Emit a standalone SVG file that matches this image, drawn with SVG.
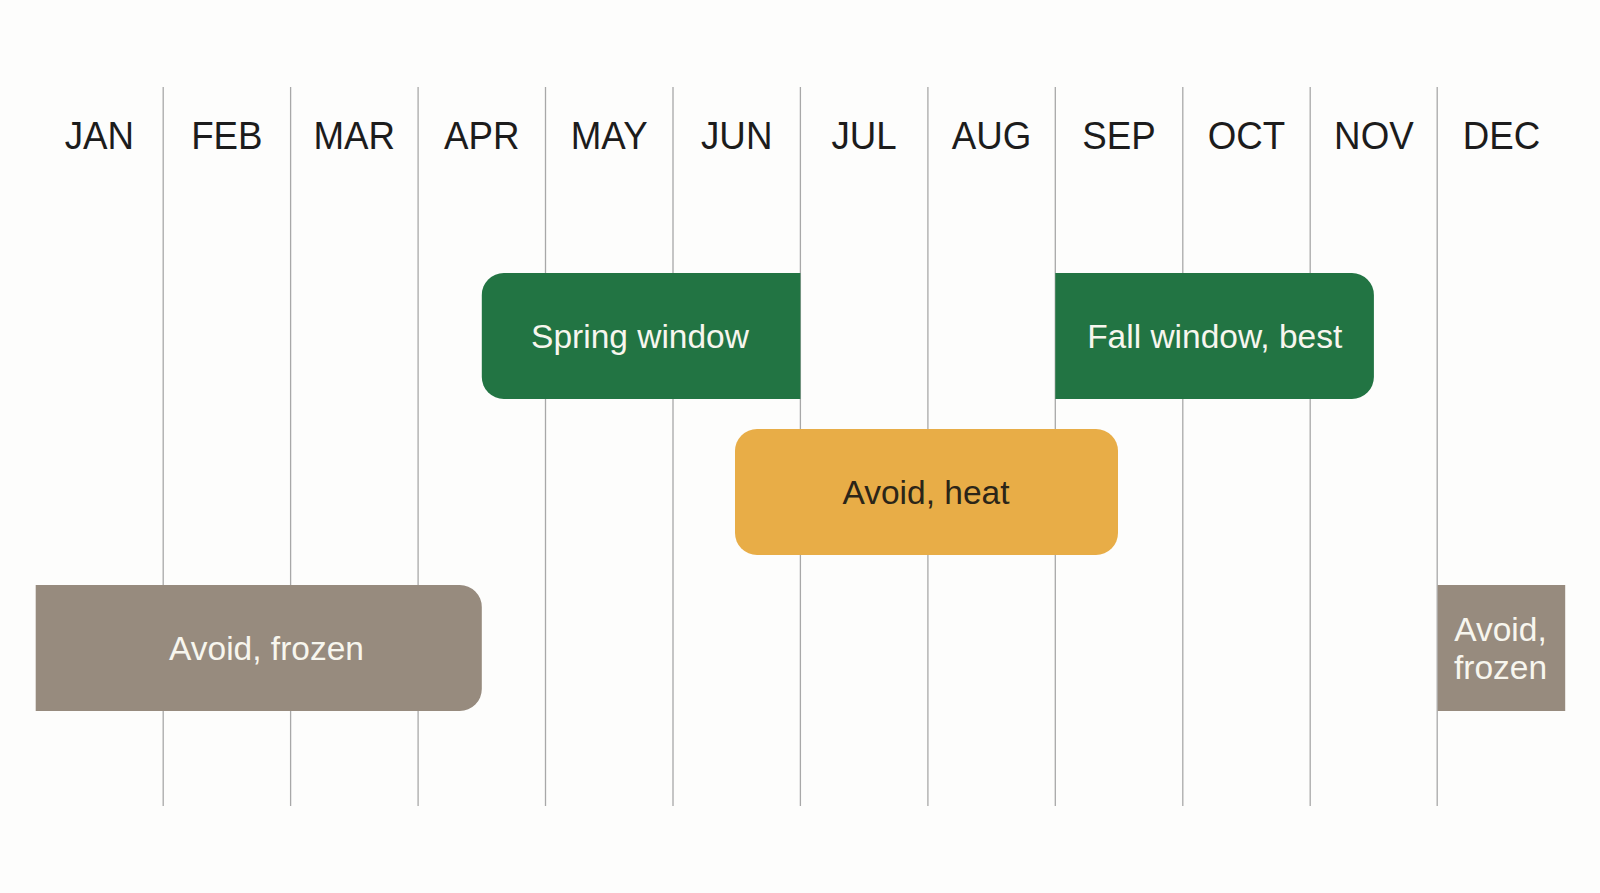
<svg xmlns="http://www.w3.org/2000/svg" width="1600" height="893" viewBox="0 0 1600 893">
<style>
.bg{fill:#fdfdfc}
.grid line{stroke:#a8a8a8;stroke-width:1.3}
.mon{font-family:"Liberation Sans",Arial,sans-serif;font-size:39.5px;fill:#1c1c1c;text-anchor:middle}
.lbl{font-family:"Liberation Sans",Arial,sans-serif;font-size:33.5px;text-anchor:middle}
.g{fill:#227443}
.a{fill:#e8ad47}
.t{fill:#978b7e}
.wt{fill:#f7f6ee}
.dk{fill:#2b2518}
</style>
<rect class="bg" x="0" y="0" width="1600" height="893"/>
<g id="grid" class="grid">
<line x1="163.2" y1="87" x2="163.2" y2="806"/>
<line x1="290.6" y1="87" x2="290.6" y2="806"/>
<line x1="418.1" y1="87" x2="418.1" y2="806"/>
<line x1="545.5" y1="87" x2="545.5" y2="806"/>
<line x1="673" y1="87" x2="673" y2="806"/>
<line x1="800.4" y1="87" x2="800.4" y2="806"/>
<line x1="927.9" y1="87" x2="927.9" y2="806"/>
<line x1="1055.3" y1="87" x2="1055.3" y2="806"/>
<line x1="1182.8" y1="87" x2="1182.8" y2="806"/>
<line x1="1310.2" y1="87" x2="1310.2" y2="806"/>
<line x1="1437.2" y1="87" x2="1437.2" y2="806"/>
</g>
<g id="months" class="mon">
<text transform="translate(99.4,149) scale(0.93,1)">JAN</text>
<text transform="translate(226.9,149) scale(0.93,1)">FEB</text>
<text transform="translate(354.3,149) scale(0.93,1)">MAR</text>
<text transform="translate(481.8,149) scale(0.93,1)">APR</text>
<text transform="translate(609.2,149) scale(0.93,1)">MAY</text>
<text transform="translate(736.7,149) scale(0.93,1)">JUN</text>
<text transform="translate(864.1,149) scale(0.93,1)">JUL</text>
<text transform="translate(991.6,149) scale(0.93,1)">AUG</text>
<text transform="translate(1119,149) scale(0.93,1)">SEP</text>
<text transform="translate(1246.5,149) scale(0.93,1)">OCT</text>
<text transform="translate(1373.9,149) scale(0.93,1)">NOV</text>
<text transform="translate(1501.4,149) scale(0.93,1)">DEC</text>
</g>
<g id="connectors"></g>
<g id="spring">
<path class="g" d="M503.8,273 H800.4 V399 H503.8 A22,22 0 0 1 481.8,377 V295 A22,22 0 0 1 503.8,273 Z"/>
<text class="lbl wt" x="640" y="348">Spring window</text>
</g>
<g id="fall">
<path class="g" d="M1055.3,273 H1351.9 A22,22 0 0 1 1373.9,295 V377 A22,22 0 0 1 1351.9,399 H1055.3 Z"/>
<text class="lbl wt" x="1214.7" y="348">Fall window, best</text>
</g>
<g id="heat">
<rect class="a" x="735" y="429" width="383" height="126" rx="22"/>
<text class="lbl dk" x="926" y="503.5">Avoid, heat</text>
</g>
<g id="frozen-start">
<path class="t" d="M35.7,585 H459.8 A22,22 0 0 1 481.8,607 V689 A22,22 0 0 1 459.8,711 H35.7 Z"/>
<text class="lbl wt" x="266.5" y="660">Avoid, frozen</text>
</g>
<g id="frozen-end">
<rect class="t" x="1437.7" y="585" width="127.5" height="126"/>
<text class="lbl wt" x="1500.5" y="641">Avoid,</text>
<text class="lbl wt" x="1500.5" y="678.5">frozen</text>
</g>
</svg>
